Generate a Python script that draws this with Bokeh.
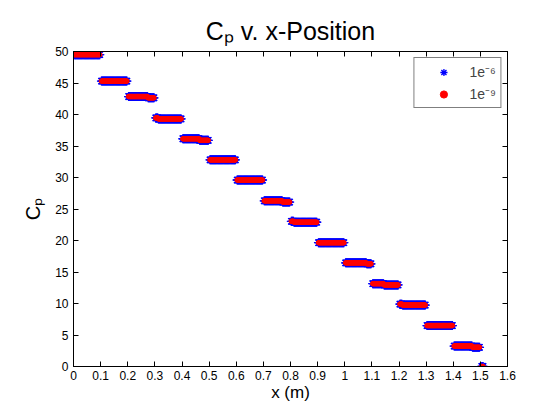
import numpy as np
from bokeh.plotting import figure
from bokeh.models import (Range1d, LinearAxis, FixedTicker, CustomJSTickFormatter,
                          Legend, LegendItem, ColumnDataSource)
from bokeh.embed import file_html
from bokeh.resources import INLINE

# ---- data ----
seg_x_start = [0.003, 0.103, 0.203, 0.303, 0.403, 0.503, 0.603, 0.703, 0.803, 0.903,
               1.003, 1.103, 1.203, 1.303, 1.403, 1.505]
seg_x_end = [0.097, 0.197, 0.297, 0.397, 0.497, 0.597, 0.697, 0.797, 0.897, 0.997,
             1.097, 1.197, 1.297, 1.397, 1.497, 1.510]
seg_x_split = [0.05, 0.15, 0.275, 0.312, 0.465, 0.55, 0.65, 0.77, 0.812, 0.95,
               1.08, 1.145, 1.212, 1.35, 1.47, 1.51]
cp_left = [49.5, 45.3, 42.85, 39.45, 36.15, 32.8, 29.6, 26.3, 23.05, 19.65,
           16.45, 13.15, 9.9, 6.5, 3.25, 0.0]
cp_right = [49.5, 45.3, 42.65, 39.3, 35.9, 32.8, 29.6, 26.1, 22.9, 19.65,
            16.3, 12.95, 9.75, 6.5, 3.05, 0.0]

x_ticks = [0, 0.1, 0.2, 0.3, 0.4, 0.5, 0.6, 0.7, 0.8, 0.9, 1, 1.1, 1.2, 1.3, 1.4, 1.5, 1.6]
x_tick_labels = ["0", "0.1", "0.2", "0.3", "0.4", "0.5", "0.6", "0.7", "0.8", "0.9",
                 "1", "1.1", "1.2", "1.3", "1.4", "1.5", "1.6"]
y_ticks = [0, 5, 10, 15, 20, 25, 30, 35, 40, 45, 50]

series_names = ["1e\u207b\u2076", "1e\u207b\u2079"]
title_text = "C\u209a v. x-Position"
x_label = "x (m)"
y_label = "C\u209a"

# build point lists (element-wise constant Cp on a fine x grid)
xs, ys = [], []
for a, b, s, cl, cr in zip(seg_x_start, seg_x_end, seg_x_split, cp_left, cp_right):
    n = max(2, int(round((b - a) / 0.002)) + 1)
    xx = np.linspace(a, b, n)
    xs.extend(xx.tolist())
    ys.extend([cl if v < s else cr for v in xx])

src6 = ColumnDataSource(dict(x=xs, y=ys))
src9 = ColumnDataSource(dict(x=xs, y=ys))

FONT = "Liberation Sans"

p = figure(width=544, height=404, output_backend="svg", toolbar_location=None,
           x_range=Range1d(0, 1.6), y_range=Range1d(0, 50),
           min_border_left=73, min_border_right=37, min_border_top=51, min_border_bottom=34)
p.xgrid.visible = False
p.ygrid.visible = False
p.outline_line_color = "black"
p.background_fill_color = "white"
p.border_fill_color = "white"

p.title.text = title_text
p.title.align = "center"
p.title.text_font = FONT
p.title.text_font_size = "25px"
p.title.text_font_style = "normal"
p.title.text_color = "black"
p.title.standoff = 14

def style_axis(ax, ticks):
    ax.ticker = FixedTicker(ticks=ticks)
    ax.major_tick_in = 5
    ax.major_tick_out = 0
    ax.minor_tick_line_color = None
    ax.axis_line_color = "black"
    ax.major_tick_line_color = "black"
    ax.major_label_text_font = FONT
    ax.major_label_text_font_size = "12px"
    ax.major_label_text_color = "black"
    ax.axis_label_text_font = FONT
    ax.axis_label_text_font_style = "normal"
    ax.axis_label_text_color = "black"

xa = p.xaxis[0]
style_axis(xa, x_ticks)
xa.major_label_overrides = dict(zip(x_ticks, x_tick_labels))
xa.major_label_standoff = 4
xa.axis_label = x_label
xa.axis_label_text_font_size = "17px"
xa.axis_label_standoff = 0

ya = p.yaxis[0]
style_axis(ya, y_ticks)
ya.major_label_standoff = 5
ya.axis_label = y_label
ya.axis_label_text_font_size = "20px"
ya.axis_label_standoff = 8

top_ax = LinearAxis(formatter=CustomJSTickFormatter(code="return ''"))
style_axis(top_ax, x_ticks)
top_ax.major_label_standoff = 0
top_ax.major_label_text_font_size = "0px"
p.add_layout(top_ax, "above")
right_ax = LinearAxis(formatter=CustomJSTickFormatter(code="return ''"))
style_axis(right_ax, y_ticks)
right_ax.major_label_standoff = 0
right_ax.major_label_text_font_size = "0px"
p.add_layout(right_ax, "right")

r6 = p.scatter("x", "y", source=src6, marker="asterisk", size=9,
               line_color="#0000ff", line_width=1.3)
r9 = p.scatter("x", "y", source=src9, marker="circle", size=4.5,
               fill_color="#ff0000", line_color="#ff0000", line_width=1)

legend = Legend(items=[LegendItem(label=series_names[0], renderers=[r6]),
                       LegendItem(label=series_names[1], renderers=[r9])],
                location="top_right", margin=6, padding=4, spacing=3,
                glyph_width=50, glyph_height=18, label_standoff=1,
                label_width=24, label_height=18,
                label_text_font=FONT, label_text_font_size="14px",
                border_line_color="black", border_line_width=1,
                background_fill_color="white", background_fill_alpha=1)
p.add_layout(legend)

open("out.html", "w").write(file_html(p, INLINE))
